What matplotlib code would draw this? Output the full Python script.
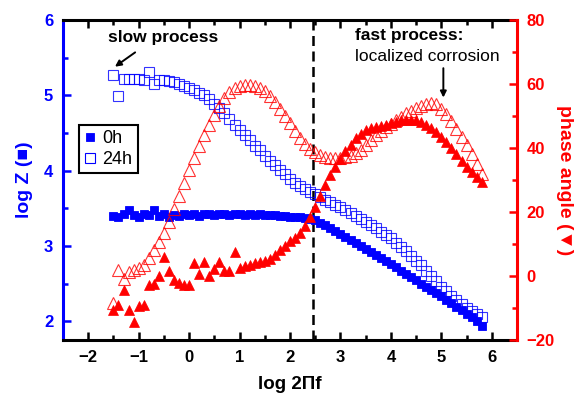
import matplotlib
matplotlib.use('Agg')
import matplotlib.pyplot as plt
from matplotlib.ticker import MultipleLocator

plt.rcParams['font.family'] = ['Liberation Sans', 'DejaVu Sans']

log_f = [-1.5, -1.4, -1.3, -1.2, -1.1, -1.0, -0.9, -0.8, -0.7, -0.6,
         -0.5, -0.4, -0.3, -0.2, -0.1, 0.0, 0.1, 0.2, 0.3, 0.4,
         0.5, 0.6, 0.7, 0.8, 0.9, 1.0, 1.1, 1.2, 1.3, 1.4,
         1.5, 1.6, 1.7, 1.8, 1.9, 2.0, 2.1, 2.2, 2.3, 2.4,
         2.5, 2.6, 2.7, 2.8, 2.9, 3.0, 3.1, 3.2, 3.3, 3.4,
         3.5, 3.6, 3.7, 3.8, 3.9, 4.0, 4.1, 4.2, 4.3, 4.4,
         4.5, 4.6, 4.7, 4.8, 4.9, 5.0, 5.1, 5.2, 5.3, 5.4,
         5.5, 5.6, 5.7, 5.8]

logz_0h = [3.40, 3.38, 3.42, 3.47, 3.41, 3.38, 3.43, 3.41, 3.47, 3.40,
           3.42, 3.39, 3.41, 3.40, 3.42, 3.41, 3.42, 3.40, 3.43, 3.42,
           3.41, 3.42, 3.43, 3.41, 3.42, 3.42, 3.41, 3.42, 3.41, 3.42,
           3.41, 3.41, 3.41, 3.40, 3.40, 3.39, 3.39, 3.38, 3.37, 3.36,
           3.34, 3.31, 3.28, 3.24, 3.20, 3.16, 3.12, 3.08, 3.04, 3.00,
           2.96, 2.92, 2.88, 2.84, 2.80, 2.76, 2.72, 2.67, 2.63, 2.59,
           2.55, 2.50, 2.46, 2.42, 2.37, 2.33, 2.28, 2.24, 2.19, 2.15,
           2.10, 2.05, 2.00, 1.93]

logz_24h = [5.27, 4.99, 5.22, 5.22, 5.21, 5.22, 5.20, 5.31, 5.15, 5.20,
            5.20, 5.19, 5.17, 5.15, 5.12, 5.10, 5.07, 5.03, 5.00, 4.95,
            4.88, 4.83, 4.77, 4.69, 4.61, 4.54, 4.47, 4.40, 4.33, 4.27,
            4.20, 4.13, 4.07, 4.01, 3.95, 3.89, 3.84, 3.79, 3.75, 3.72,
            3.69, 3.65, 3.61, 3.58, 3.54, 3.51, 3.47, 3.44, 3.40, 3.36,
            3.32, 3.28, 3.24, 3.19, 3.15, 3.10, 3.04, 2.99, 2.93, 2.87,
            2.80, 2.74, 2.67, 2.60, 2.53, 2.46, 2.40, 2.34, 2.28, 2.23,
            2.18, 2.13, 2.09, 2.05]

phase_0h = [-10.5, -9.0, -4.5, -10.5, -14.5, -9.5, -9.0, -2.8, -2.5, 0.0,
            6.0, 1.5, -1.3, -2.3, -2.8, -2.8, 4.0, 0.5, 4.5, 0.0,
            2.1, 4.5, 1.6, 1.6, 7.6, 2.6, 3.1, 3.5, 4.0, 4.4,
            4.8, 5.4, 6.5, 8.0, 9.5, 11.0, 12.0, 13.5, 15.5, 18.5,
            21.5, 25.0, 28.5, 31.5, 34.0, 36.5, 39.0, 41.0, 43.0, 44.5,
            45.5, 46.2, 46.5, 46.8, 47.2, 47.7, 48.2, 48.6, 48.8, 48.8,
            48.6, 48.0, 47.2, 46.2, 45.0, 43.5, 41.8, 40.0, 38.0, 36.0,
            34.2, 32.6, 31.0, 29.5]

phase_24h = [-8.4, 1.9, -0.9, 1.4, 1.9, 2.5, 3.4, 5.5, 8.1, 10.5,
             13.5, 17.0, 21.0, 25.0, 29.0, 33.0, 37.0, 40.7, 44.0, 47.2,
             50.3, 53.2, 55.5, 57.4, 58.8, 59.5, 59.8, 59.7, 59.3, 58.8,
             57.8, 56.2, 54.3, 52.2, 50.0, 47.7, 45.3, 43.0, 41.2, 39.8,
             38.7, 37.9, 37.3, 37.0, 36.9, 36.9, 37.1, 37.6, 38.4, 39.5,
             41.0, 42.5, 44.0, 45.3, 46.5, 47.6, 48.7, 49.8, 50.8, 51.7,
             52.5, 53.1, 53.8, 54.0, 53.6, 52.2, 50.5, 48.4, 46.0, 43.5,
             40.8, 38.0, 35.0, 32.0]

series_labels = ['0h', '24h']
x_ticks = [-2, -1, 0, 1, 2, 3, 4, 5, 6]
logz_ticks = [2, 3, 4, 5, 6]
phase_ticks = [-20, 0, 20, 40, 60, 80]
divider_x = 2.46

BLUE = '#0000ff'
RED = '#ff0000'

fig = plt.figure(figsize=(5.84, 3.97), dpi=100)
ax1 = fig.add_axes([63/584, 57/397, 454/584, 320/397])
ax2 = ax1.twinx()

l0, = ax1.plot(log_f, logz_0h, ls='none', marker='s', ms=6, mfc=BLUE, mec=BLUE,
               mew=0.6, label=series_labels[0])
l1, = ax1.plot(log_f, logz_24h, ls='none', marker='s', ms=6.5, mfc='none', mec=BLUE,
               mew=0.8, alpha=0.8, label=series_labels[1])
ax2.plot(log_f, phase_0h, ls='none', marker='^', ms=7.5, mfc=RED, mec=RED, mew=0.5)
ax2.plot(log_f, phase_24h, ls='none', marker='^', ms=8, mfc='none', mec=RED,
         mew=0.8, alpha=0.8)

ax1.axvline(divider_x, color='black', ls=(0, (4, 2.2)), lw=1.8, zorder=1)

ax1.set_xlim(-2.5, 6.5)
ax1.set_ylim(1.75, 6)
ax2.set_ylim(-20, 80)

ax1.set_xticks(x_ticks)
ax1.xaxis.set_minor_locator(MultipleLocator(0.5))
ax1.set_yticks(logz_ticks)
ax1.yaxis.set_minor_locator(MultipleLocator(0.5))
ax2.set_yticks(phase_ticks)
ax2.yaxis.set_minor_locator(MultipleLocator(10))

for sp in ['left', 'top', 'bottom']:
    ax2.spines[sp].set_visible(False)
ax1.spines['right'].set_visible(False)
ax1.spines['left'].set_color(BLUE)
ax1.spines['left'].set_linewidth(2.2)
ax1.spines['bottom'].set_linewidth(2.2)
ax1.spines['top'].set_linewidth(2.2)
ax2.spines['right'].set_color(RED)
ax2.spines['right'].set_linewidth(2.2)

ax1.tick_params(axis='x', which='both', direction='in', top=True, width=1.8,
                labelsize=12, pad=7, colors='black')
ax1.tick_params(axis='x', which='major', length=5.5)
ax1.tick_params(axis='x', which='minor', length=3.5)
ax1.tick_params(axis='y', which='both', direction='in', width=1.8, color=BLUE,
                labelcolor=BLUE, labelsize=12, pad=7)
ax1.tick_params(axis='y', which='major', length=5.5)
ax1.tick_params(axis='y', which='minor', length=3.5)
ax2.tick_params(axis='y', which='both', direction='in', width=1.8, color=RED,
                labelcolor=RED, labelsize=12, pad=7)
ax2.tick_params(axis='y', which='major', length=5.5)
ax2.tick_params(axis='y', which='minor', length=3.5)

for lab in ax1.get_xticklabels() + ax1.get_yticklabels() + ax2.get_yticklabels():
    lab.set_fontweight('bold')

ax1.set_xlabel('log 2\u03a0f', fontsize=13.5, fontweight='bold', labelpad=8)
ax1.set_ylabel('log Z (\u25a0)', fontsize=14, fontweight='bold', color=BLUE, labelpad=8)
ax2.set_ylabel('phase angle (\u25bc)', fontsize=14, fontweight='bold', color=RED,
               rotation=270, labelpad=13)

leg = ax2.legend(handles=[l0, l1], loc='upper left', bbox_to_anchor=(0.035, 0.672),
                 borderaxespad=0, fancybox=False, edgecolor='black', fontsize=13,
                 handlelength=0.6, handletextpad=0.4, borderpad=0.3, labelspacing=0.2,
                 framealpha=1)
leg.get_frame().set_linewidth(1.5)
for h in leg.legend_handles:
    h.set_alpha(1)

ax1.text(-0.52, 5.77, 'slow process', ha='center', va='center', fontsize=12.5,
         fontweight='bold')
ax1.annotate('', xy=(-1.47, 5.38), xytext=(-1.07, 5.57),
             arrowprops=dict(arrowstyle='-|>', color='black', lw=1.4,
                             mutation_scale=9, shrinkA=0, shrinkB=0))
ax1.text(3.29, 5.80, 'fast process:', ha='left', va='center', fontsize=12.5,
         fontweight='bold')
ax1.text(3.29, 5.52, 'localized corrosion', ha='left', va='center', fontsize=12.5)
ax1.annotate('', xy=(5.04, 4.97), xytext=(5.04, 5.36),
             arrowprops=dict(arrowstyle='-|>', color='black', lw=1.4,
                             mutation_scale=9, shrinkA=0, shrinkB=0))

fig.savefig('out.png', dpi=100)
